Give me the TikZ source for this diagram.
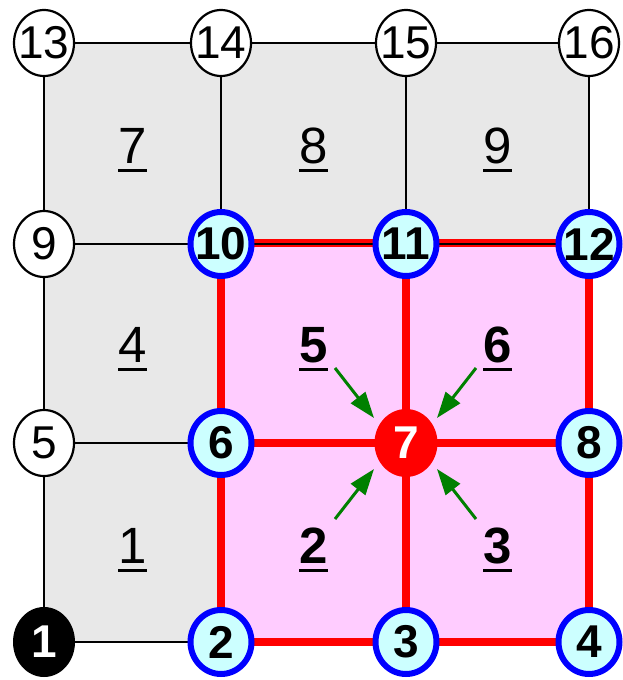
\documentclass[tikz,border=0pt]{standalone}
\usepackage{fontspec}
\setmainfont{Liberation Sans}
\usetikzlibrary{shapes.geometric,arrows.meta}
\definecolor{cellgray}{HTML}{E8E8E8}
\definecolor{cellpink}{HTML}{FFCCFF}
\definecolor{nodecyan}{HTML}{CCFFFF}
\definecolor{arrowgreen}{HTML}{008000}
\newcommand\ulnum[1]{\setbox0\hbox{#1}\rlap{\rule[-8.5pt]{\wd0}{3pt}}\box0}
\begin{document}
\begin{tikzpicture}[x=1pt,y=-1pt,
  gnode/.style={ellipse, inner sep=0pt, font=\fontsize{46}{46}\selectfont},
  wnode/.style={gnode, draw=black, line width=2.2pt, fill=white, minimum width=60pt, minimum height=66pt},
  bnode/.style={gnode, draw=blue, line width=6pt, fill=nodecyan, minimum width=61pt, minimum height=64pt, font=\fontsize{46}{46}\selectfont\bfseries},
  rnode/.style={gnode, fill=red, text=white, minimum width=63pt, minimum height=68pt, font=\fontsize{46}{46}\selectfont\bfseries},
  knode/.style={gnode, fill=black, text=white, minimum width=62pt, minimum height=70pt, font=\fontsize{46}{46}\selectfont\bfseries},
  elab/.style={anchor=base, inner sep=0pt, font=\fontsize{51}{51}\selectfont},
  belab/.style={elab, font=\fontsize{51}{51}\selectfont\bfseries},
  thinline/.style={line width=2.8pt, black},
  redline/.style={line width=8pt, red},
  garrow/.style={line width=3pt, arrowgreen, -{Triangle[length=26pt,width=18pt]}}
]
\useasboundingbox (0,0) rectangle (622,680);
% fills
\fill[cellgray] (44,43) rectangle (589,642);
\fill[cellpink] (221,244) rectangle (589,642);
% coordinates of grid points
\coordinate (p1) at (44,642);  \coordinate (p2) at (221,642); \coordinate (p3) at (406,642); \coordinate (p4) at (589,642);
\coordinate (p5) at (44,443);  \coordinate (p6) at (221,443); \coordinate (p7) at (406,443); \coordinate (p8) at (589,443);
\coordinate (p9) at (44,244);  \coordinate (p10) at (221,244); \coordinate (p11) at (406,244); \coordinate (p12) at (589,244);
\coordinate (p13) at (44,43);  \coordinate (p14) at (221,43); \coordinate (p15) at (406,43); \coordinate (p16) at (589,43);
% black grid lines
\draw[thinline] (p13) -- (p16);
\draw[thinline] (p9) -- (p10);
\draw[thinline] (p5) -- (p6);
\draw[thinline] (p1) -- (p2);
\draw[thinline] (p13) -- (p1);
\draw[thinline] (p14) -- (p10);
\draw[thinline] (p15) -- (p11);
\draw[thinline] (p16) -- (p12);
% red lines
\draw[redline] ([yshift=1.5pt]p10) -- ([yshift=1.5pt]p12);
\draw[redline] (p6) -- (p8);
\draw[redline] (p2) -- (p4);
\draw[redline] (p10) -- (p2);
\draw[redline] (p11) -- (p3);
\draw[redline] (p12) -- (p4);
\draw[thinline] (p10) -- (p12);
% element labels
\node[elab] (e7) at (132.5,163) {\ulnum{7}};
\node[elab] (e8) at (313.5,163) {\ulnum{8}};
\node[elab] (e9) at (497.5,163) {\ulnum{9}};
\node[elab] (e4) at (132.5,362) {\ulnum{4}};
\node[belab] (e5) at (313.5,362) {\ulnum{5}};
\node[belab] (e6) at (497.5,362) {\ulnum{6}};
\node[elab] (e1) at (132.5,563) {\ulnum{1}};
\node[belab] (e2) at (313.5,563) {\ulnum{2}};
\node[belab] (e3) at (497.5,563) {\ulnum{3}};
% arrows
\coordinate (a1s) at (335,368); \coordinate (a1e) at (374,418);
\coordinate (a2s) at (476,368); \coordinate (a2e) at (437,418);
\coordinate (a3s) at (335,519); \coordinate (a3e) at (374,469);
\coordinate (a4s) at (476,519); \coordinate (a4e) at (437,469);
\draw[garrow] (a1s) -- (a1e);
\draw[garrow] (a2s) -- (a2e);
\draw[garrow] (a3s) -- (a3e);
\draw[garrow] (a4s) -- (a4e);
% nodes
\node[knode] (n1) at (p1) {\makebox[0pt]{1}};
\node[bnode] (n2) at (p2) {\makebox[0pt]{2}};
\node[bnode] (n3) at (p3) {\makebox[0pt]{3}};
\node[bnode] (n4) at (p4) {\makebox[0pt]{4}};
\node[wnode] (n5) at (p5) {\makebox[0pt]{5}};
\node[bnode] (n6) at (p6) {\makebox[0pt]{6}};
\node[rnode] (n7) at (p7) {\makebox[0pt]{7}};
\node[bnode] (n8) at (p8) {\makebox[0pt]{8}};
\node[wnode] (n9) at (p9) {\makebox[0pt]{9}};
\node[bnode] (n10) at (p10) {\makebox[0pt]{10}};
\node[bnode] (n11) at (p11) {\makebox[0pt]{11}};
\node[bnode] (n12) at (p12) {\makebox[0pt]{12}};
\node[wnode] (n13) at (p13) {\makebox[0pt]{13}};
\node[wnode] (n14) at (p14) {\makebox[0pt]{14}};
\node[wnode] (n15) at (p15) {\makebox[0pt]{15}};
\node[wnode] (n16) at (p16) {\makebox[0pt]{16}};
\end{tikzpicture}
\end{document}
